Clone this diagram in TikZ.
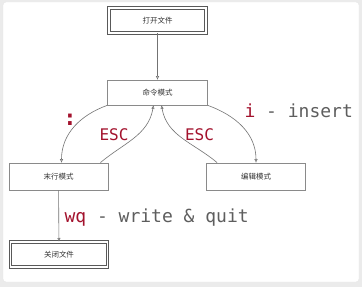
\documentclass[tikz,border=0pt]{standalone}
\usepackage{fontspec}
\setmonofont{DejaVu Sans Mono}
\newfontfamily\cjk{Noto Sans CJK SC}
\usetikzlibrary{arrows.meta}
\usepackage{xcolor}

\definecolor{keyred}{HTML}{A3122D}
\definecolor{cmdgray}{HTML}{5E5E5E}
\definecolor{boxline}{HTML}{8A8A8A}

\tikzset{
  mode/.style={draw=boxline, line width=0.8pt, fill=white, minimum width=99pt,
    minimum height=27pt, inner sep=0pt, text=black!80,
    font=\cjk\fontsize{7.5}{9}\selectfont},
  endbox/.style={mode, draw=black!65, double=white, double distance=1.3pt,
    line width=1pt, minimum width=97pt, minimum height=25pt},
  conn/.style={draw=black!55, line width=0.6pt,
    -{Triangle[open,length=3.5pt,width=3pt]}},
  keytext/.style={font=\ttfamily\fontsize{18}{20}\selectfont, text=cmdgray},
  esctext/.style={font=\ttfamily\fontsize{16}{18}\selectfont, text=keyred},
}

\begin{document}
\begin{tikzpicture}[x=1pt,y=1pt]

\useasboundingbox (0,0) rectangle (362,287);
\fill[black!8] (0,0) rectangle (362,287);
\fill[white, draw=black!10, rounded corners=3pt] (3,5) rectangle (359,285);

% the five states
\node[endbox] (open) at (157.5,266.5) {打开文件};
\node[mode, minimum width=100pt, minimum height=25pt] (cmd) at (157.5,194.5) {命令模式};
\node[mode] (last) at (58.5,110.5) {末行模式};
\node[mode] (edit) at (256,110.5) {编辑模式};
\node[endbox] (close) at (59,32.5) {关闭文件};

% transitions
\draw[conn] (open) -- (cmd);
\draw[conn] (cmd.south west) to[out=200,in=90] ([xshift=3pt]last.north);
\draw[conn] ([xshift=-8pt]last.north east) to[out=40,in=-100] ([xshift=-4pt]cmd.south);
\draw[conn] ([xshift=11pt]edit.north west) to[out=140,in=-80] ([xshift=4pt]cmd.south);
\draw[conn] (cmd.south east) to[out=-20,in=90] (edit.north);
\draw[conn] (last) -- (close);

% key labels
\node[keytext, font=\ttfamily\bfseries\fontsize{22}{24}\selectfont, text=keyred] (colon) at (70,167.5) {:};
\node[esctext] (escl) at (114,152) {ESC};
\node[esctext] (escr) at (199.5,152) {ESC};
\node[keytext, anchor=base west] (ins) at (241,169) {\textcolor{keyred}{i} - insert};
\node[keytext, anchor=base west] (wq) at (61,64) {\textcolor{keyred}{wq} - write \& quit};

\end{tikzpicture}
\end{document}
